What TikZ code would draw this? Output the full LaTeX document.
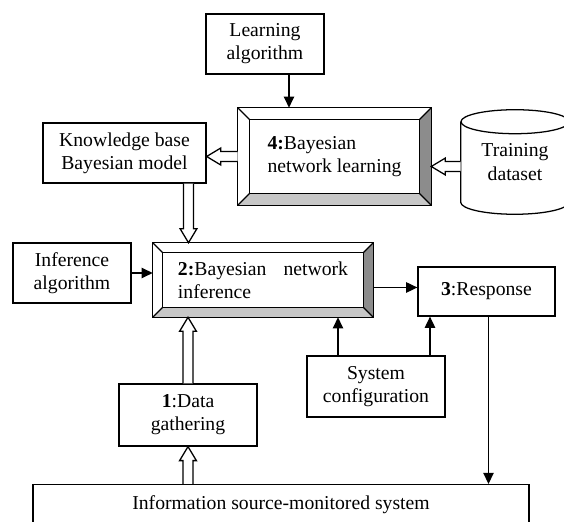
\documentclass[tikz,border=0pt]{standalone}
\usepackage{fontspec}
\setmainfont{Liberation Serif}
\usetikzlibrary{arrows.meta,calc}

% raised frame: outer and inner rectangle, corner mitres, shaded lower/right faces
\newcommand{\bevelframe}[2]{%
  \fill[black!45] (#1.north east) -- (#1.south east)
    -- ([shift={(-#2,#2)}]#1.south east) -- ([shift={(-#2,-#2)}]#1.north east) -- cycle;
  \fill[black!22] (#1.south west) -- (#1.south east)
    -- ([shift={(-#2,#2)}]#1.south east) -- ([shift={(#2,#2)}]#1.south west) -- cycle;
  \draw[frame] (#1.north west) rectangle (#1.south east);
  \draw[frame] ([shift={(#2,-#2)}]#1.north west) rectangle ([shift={(-#2,#2)}]#1.south east);
  \foreach \c/\dx/\dy in {north west/1/-1, north east/-1/-1, south west/1/1, south east/-1/1}
    \draw[frame] (#1.\c) -- ([shift={(\dx*#2,\dy*#2)}]#1.\c);
}

% outlined block arrow from #1 to #2
\newcommand{\hollowarrow}[2]{%
  \coordinate (ha-a) at (#1);
  \coordinate (ha-b) at (#2);
  \coordinate (ha-c) at ($(ha-b)!0.35cm!(ha-a)$);
  \draw[frame, fill=white, line join=miter]
    ($(ha-a)!0.125cm!90:(ha-b)$) -- ($(ha-c)!0.125cm!90:(ha-b)$) -- ($(ha-c)!0.21cm!90:(ha-b)$)
    -- (ha-b) -- ($(ha-c)!0.21cm!-90:(ha-b)$) -- ($(ha-c)!0.125cm!-90:(ha-b)$) -- ($(ha-a)!0.125cm!-90:(ha-b)$);
}

\tikzset{
  frame/.style={line width=0.9pt},
  txt/.style={font=\fontsize{14}{16.5}\selectfont},
  box/.style={draw, frame, align=center, inner sep=2pt, txt},
  line/.style={frame, -{Triangle[length=0.28cm, width=0.26cm]}}
}

\begin{document}
\begin{tikzpicture}[
    bevelbox/.style={inner sep=0pt, txt},
    store/.style={inner sep=0pt, align=center, txt, minimum width=2.7cm, minimum height=2.6cm}
  ]
    \path[use as bounding box] (0,0) rectangle (14.1,13.05);

    \node[box, minimum width=2.95cm, minimum height=1.5cm] (learn) at (6.625,11.95) {Learning\\algorithm};
    \node[bevelbox, align=left, minimum width=4.825cm, minimum height=2.425cm] (learnnet) at (8.3625,9.1375) {\textbf{4:}Bayesian\\network learning};
    \node[box, minimum width=4.075cm, minimum height=1.5cm] (kb) at (3.1125,9.225) {Knowledge base\\Bayesian model};
    \node[store] (data) at (12.875,9.0) {Training\\dataset};
    \node[bevelbox, align=justify, text width=4.25cm, minimum width=5.5cm, minimum height=1.85cm] (infer) at (6.575,6.05) {\textbf{2:}Bayesian network inference};
    \node[box, minimum width=2.95cm, minimum height=1.5cm] (infalg) at (1.8,6.225) {Inference\\algorithm};
    \node[box, minimum width=3.425cm, minimum height=1.225cm] (resp) at (12.1625,5.7625) {\textbf{3}:Response};
    \node[box, minimum width=3.45cm, minimum height=1.525cm] (syscfg) at (9.4,3.3875) {System\\configuration};
    \node[box, minimum width=3.45cm, minimum height=1.55cm] (gather) at (4.7,2.675) {\textbf{1}:Data\\gathering};
    \node[box, anchor=north, minimum width=12.4cm, inner ysep=0.275cm, text height=0.35cm, text depth=0.9cm] (info) at (7.025,0.95) {Information source-monitored system};

    \bevelframe{learnnet}{0.3cm}
    \bevelframe{infer}{0.25cm}

    % dataset drum
    \draw[frame] ([yshift=-0.3cm]data.north) ellipse [x radius=1.35cm, y radius=0.3cm];
    \draw[frame] ([yshift=-0.3cm]data.north west) -- ([yshift=0.3cm]data.south west)
      arc[start angle=180, end angle=360, x radius=1.35cm, y radius=0.3cm] -- ([yshift=-0.3cm]data.north east);

    \draw[line] ([xshift=0.6cm]learn.south) -- ([xshift=0.6cm]learn.south |- learnnet.north);
    \hollowarrow{learnnet.west}{learnnet.west -| kb.east}
    \hollowarrow{[yshift=-0.25cm]learnnet.east -| data.west}{[yshift=-0.25cm]learnnet.east}
    \hollowarrow{[xshift=1.6cm]kb.south}{[xshift=1.6cm]kb.south |- infer.north}
    \draw[line] (infalg.east) -- (infalg.east -| infer.west);
    \draw[line] ([yshift=0.1cm]resp.west -| infer.east) -- ([yshift=0.1cm]resp.west);
    \draw[line] ([xshift=-0.95cm]syscfg.north) -- ([xshift=-0.95cm]syscfg.north |- infer.south);
    \draw[line] ([xshift=1.35cm]syscfg.north) -- ([xshift=1.35cm]syscfg.north |- resp.south);
    \hollowarrow{gather.north}{gather.north |- infer.south}
    \hollowarrow{gather.south |- info.north}{gather.south}
    \draw[line] ([xshift=0.05cm]resp.south) -- ([xshift=0.05cm]resp.south |- info.north);
\end{tikzpicture}
\end{document}
